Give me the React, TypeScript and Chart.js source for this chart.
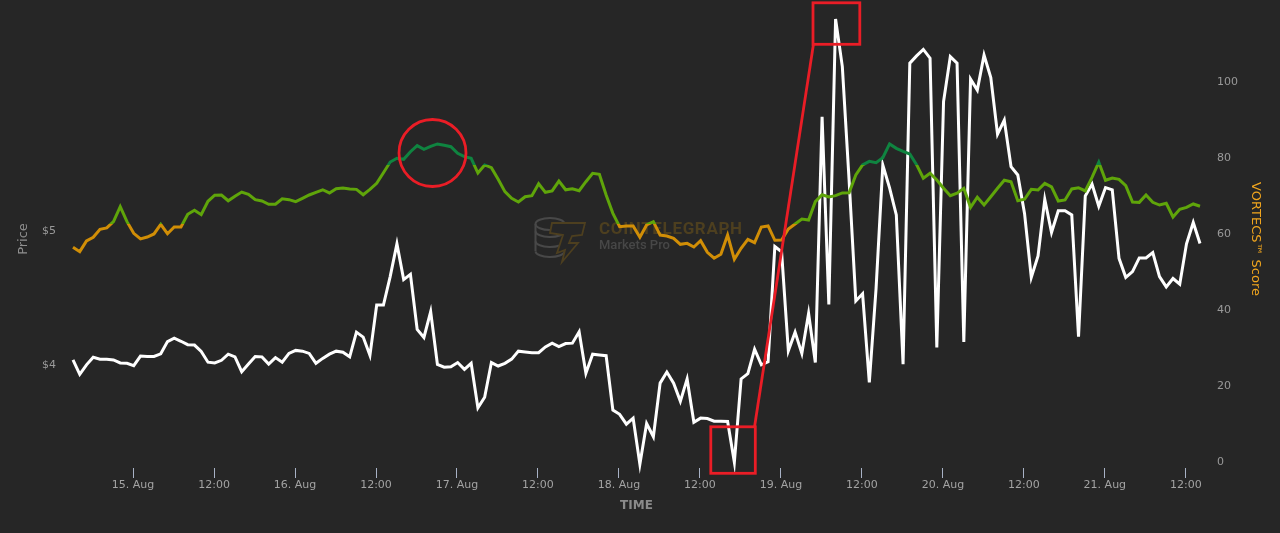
import React, { useEffect, useRef } from "react";
import { Chart, registerables } from "chart.js";

Chart.register(...registerables);

const firstHour = -8.9;

const price = [
  4.875, 4.842, 4.922, 4.949, 5.009, 5.019, 5.066, 5.178, 5.066, 4.979, 4.937, 4.951, 4.974, 5.046, 4.976, 5.026, 5.026,
  5.121, 5.151, 5.118, 5.218, 5.263, 5.265, 5.222, 5.256, 5.287, 5.27, 5.23, 5.22, 5.196, 5.196, 5.237, 5.23, 5.215,
  5.24, 5.265, 5.285, 5.304, 5.28, 5.312, 5.317, 5.31, 5.307, 5.267, 5.307, 5.352, 5.431, 5.511, 5.539, 5.531, 5.588,
  5.633, 5.606, 5.628, 5.646, 5.636, 5.625, 5.576, 5.551, 5.539, 5.429, 5.489, 5.469, 5.382, 5.29, 5.24, 5.213, 5.252,
  5.26, 5.349, 5.285, 5.295, 5.369, 5.304, 5.312, 5.297, 5.364, 5.427, 5.419, 5.265, 5.128, 5.028, 5.034, 5.034, 4.949,
  5.041, 5.066, 4.966, 4.959, 4.942, 4.897, 4.904, 4.877, 4.924, 4.837, 4.793, 4.822, 4.966, 4.785, 4.867, 4.934, 4.909,
  5.026, 5.034, 4.927, 4.929, 5.011, 5.049, 5.086, 5.078, 5.215, 5.267, 5.25, 5.26, 5.28, 5.282, 5.414, 5.489, 5.516,
  5.506, 5.543, 5.646, 5.613, 5.591, 5.571, 5.491, 5.39, 5.427, 5.377, 5.315, 5.26, 5.278, 5.315, 5.173, 5.248, 5.19,
  5.252, 5.315, 5.375, 5.364, 5.222, 5.233, 5.307, 5.302, 5.352, 5.325, 5.22, 5.228, 5.31, 5.319, 5.295, 5.397, 5.509,
  5.375, 5.392, 5.382, 5.334, 5.213, 5.21, 5.265, 5.21, 5.19, 5.203, 5.101, 5.158, 5.173, 5.198, 5.181,
];

const vortecs = [
  26.7, 22.9, 25.4, 27.4, 26.9, 26.9, 26.7, 25.9, 25.8, 25.2, 27.7, 27.6, 27.6, 28.3, 31.5, 32.4, 31.6, 30.7, 30.6, 28.9,
  26.1, 25.9, 26.6, 28.2, 27.5, 23.6, 25.6, 27.6, 27.5, 25.6, 27.3, 26.1, 28.4, 29.2, 29.0, 28.4, 25.8, 27.1, 28.2, 29.0,
  28.7, 27.5, 34.0, 32.7, 27.9, 41.1, 41.1, 48.6, 57.2, 47.8, 49.2, 34.7, 32.6, 39.4, 25.5, 24.8, 24.9, 26.0, 24.2, 25.8,
  14.1, 16.9, 26.0, 25.1, 25.8, 26.9, 29.0, 28.8, 28.6, 28.6, 30.1, 31.1, 30.2, 31.0, 31.1, 34.1, 23.2, 28.2, 28.0, 27.8,
  13.5, 12.4, 9.8, 11.4, -0.7, 10.0, 6.5, 20.6, 23.5, 20.6, 15.8, 21.7, 10.3, 11.4, 11.3, 10.6, 10.6, 10.5, -0.2, 21.7,
  23.1, 29.5, 25.4, 26.2, 56.5, 55.1, 29.1, 34.0, 28.4, 38.9, 26.0, 90.6, 41.3, 116.3, 103.8, 74.0, 42.2, 44.1, 20.8, 45.5,
  77.9, 71.9, 64.8, 25.6, 104.7, 106.6, 108.3, 106.0, 30.0, 94.6, 106.4, 104.7, 31.4, 100.5, 97.6, 106.8, 100.9, 86.0,
  89.7, 77.5, 75.3, 65.2, 48.4, 54.0, 68.9, 60.2, 65.9, 65.9, 64.8, 32.8, 69.8, 72.9, 67.1, 72.0, 71.4, 53.4, 48.4, 49.9,
  53.5, 53.5, 54.9, 48.6, 45.9, 48.1, 46.6, 57.2, 62.8, 57.3,
];

const xTickHours = [0, 12, 24, 36, 48, 60, 72, 84, 96, 108, 120, 132, 144, 156];
const xTickLabels = [
  "15. Aug", "12:00", "16. Aug", "12:00", "17. Aug", "12:00", "18. Aug", "12:00",
  "19. Aug", "12:00", "20. Aug", "12:00", "21. Aug", "12:00",
];
const priceTicks = [4, 5];
const scoreTicks = [0, 20, 40, 60, 80, 100];

const BG = "#262626";
const ORANGE = "#d18e06";
const GREEN = "#5fa50a";
const DARK_GREEN = "#0f8440";
const ORANGE_BELOW = 5.049;
const DARK_ABOVE = 5.489;
const RED = "#ea1d26";
const FONT = "'DejaVu Sans', sans-serif";

function zoneGradient(context: any) {
  const chart = context.chart;
  const area = chart.chartArea;
  const scale = chart.scales.yPrice;
  if (!area || !scale) return GREEN;
  const h = area.bottom - area.top;
  const a = (scale.getPixelForValue(DARK_ABOVE) - area.top) / h;
  const b = (scale.getPixelForValue(ORANGE_BELOW) - area.top) / h;
  const g = chart.ctx.createLinearGradient(0, area.top, 0, area.bottom);
  g.addColorStop(0, DARK_GREEN);
  g.addColorStop(a, DARK_GREEN);
  g.addColorStop(a, GREEN);
  g.addColorStop(b, GREEN);
  g.addColorStop(b, ORANGE);
  g.addColorStop(1, ORANGE);
  return g;
}

const watermark = {
  id: "watermark",
  beforeDatasetsDraw(chart: any) {
    const c = chart.ctx;
    c.save();
    c.strokeStyle = "#484848";
    c.lineWidth = 2;
    const cx = 550;
    const rx = 14.5;
    const ry = 6;
    c.beginPath();
    c.ellipse(cx, 224, rx, ry, 0, 0, Math.PI * 2);
    c.stroke();
    [234, 244, 254].forEach((y) => {
      c.beginPath();
      c.ellipse(cx, y - 3, rx, ry, 0, 0.05, Math.PI - 0.05);
      c.stroke();
    });
    c.beginPath();
    c.moveTo(cx - rx, 224);
    c.lineTo(cx - rx, 251);
    c.stroke();
    c.strokeStyle = "#4d3f1f";
    c.fillStyle = BG;
    c.lineWidth = 1.8;
    c.beginPath();
    const pts = [
      [552, 223], [585, 223], [582, 235], [572, 236], [569, 243], [578, 243],
      [562, 262], [565, 250], [557, 253], [563, 235], [550, 233],
    ];
    pts.forEach((p, i) => (i ? c.lineTo(p[0], p[1]) : c.moveTo(p[0], p[1])));
    c.closePath();
    c.fill();
    c.stroke();
    c.textAlign = "left";
    c.textBaseline = "alphabetic";
    c.fillStyle = "#4d3f1f";
    c.font = "bold 17px Roboto, sans-serif";
    (c as any).letterSpacing = "0.65px";
    c.fillText("COINTELEGRAPH", 599, 234);
    (c as any).letterSpacing = "0px";
    c.fillStyle = "#474747";
    c.font = "500 13px Roboto, sans-serif";
    c.fillText("Markets Pro", 599, 249);
    c.restore();
  },
};

const annotations = {
  id: "annotations",
  afterDraw(chart: any) {
    const c = chart.ctx;
    c.save();
    c.strokeStyle = RED;
    c.lineWidth = 2.8;
    c.beginPath();
    c.arc(432.5, 153, 33.5, 0, Math.PI * 2);
    c.stroke();
    c.strokeRect(710.8, 426.8, 44.5, 46.5);
    c.strokeRect(813, 2.8, 46.8, 41.5);
    c.beginPath();
    c.moveTo(754.5, 427);
    c.lineTo(813.5, 44);
    c.stroke();
    c.restore();
  },
};

export default function App() {
  const ref = useRef<HTMLCanvasElement>(null);

  useEffect(() => {
    const chart = new Chart(ref.current as HTMLCanvasElement, {
      type: "line",
      plugins: [watermark, annotations],
      data: {
        datasets: [
          {
            label: "Price",
            yAxisID: "yPrice",
            data: price.map((y, i) => ({ x: firstHour + i, y })),
            borderColor: zoneGradient,
            borderWidth: 3,
            pointRadius: 0,
            tension: 0,
            clip: false,
            order: 0,
          },
          {
            label: "VORTECS™ Score",
            yAxisID: "yScore",
            data: vortecs.map((y, i) => ({ x: firstHour + i, y })),
            borderColor: "#ffffff",
            borderWidth: 3,
            pointRadius: 0,
            tension: 0,
            clip: false,
            order: 1,
          },
        ],
      },
      options: {
        responsive: false,
        animation: false,
        layout: { padding: { top: 10 } },
        plugins: { legend: { display: false }, tooltip: { enabled: false } },
        scales: {
          x: {
            type: "linear",
            min: firstHour,
            max: firstHour + 167,
            afterFit: (s: any) => {
              s.height = 65;
              s.paddingLeft = 0;
              s.paddingRight = 0;
            },
            afterBuildTicks: (s: any) => {
              s.ticks = xTickHours.map((value) => ({ value }));
            },
            border: { display: false },
            grid: { drawOnChartArea: false, tickLength: 10, tickColor: "#a8b2c6", tickWidth: 1 },
            ticks: {
              color: "#a3a3a3",
              font: { family: FONT, size: 11 },
              padding: 1,
              maxRotation: 0,
              autoSkip: false,
              callback: (_v: any, i: number) => xTickLabels[i],
            },
            title: {
              display: true,
              text: "TIME",
              color: "#8a8a8a",
              font: { family: FONT, size: 12, weight: "bold" },
              padding: { top: 0, bottom: 20 },
            },
          },
          yPrice: {
            type: "linear",
            position: "left",
            min: 3.2276,
            max: 6.6455,
            afterFit: (s: any) => {
              s.width = 73;
              s.paddingTop = 0;
              s.paddingBottom = 0;
            },
            afterBuildTicks: (s: any) => {
              s.ticks = priceTicks.map((value) => ({ value }));
            },
            border: { display: false },
            grid: { display: false },
            ticks: {
              color: "#999999",
              font: { family: FONT, size: 11 },
              padding: 9,
              labelOffset: 1,
              callback: (v: any) => "$" + v,
            },
            title: {
              display: true,
              text: "Price",
              color: "#8f8f8f",
              font: { family: FONT, size: 13 },
              padding: { top: 16, bottom: 0 },
            },
          },
          yScore: {
            type: "linear",
            position: "right",
            min: -1.708,
            max: 118.66,
            afterFit: (s: any) => {
              s.width = 80;
              s.paddingTop = 0;
              s.paddingBottom = 0;
            },
            afterBuildTicks: (s: any) => {
              s.ticks = scoreTicks.map((value) => ({ value }));
            },
            border: { display: false },
            grid: { display: false },
            ticks: {
              color: "#999999",
              font: { family: FONT, size: 11 },
              padding: 9,
              labelOffset: 1,
            },
            title: {
              display: true,
              text: "VORTECS™ Score",
              color: "#f0a51e",
              font: { family: FONT, size: 13 },
              padding: { top: 17, bottom: 0 },
            },
          },
        },
      },
    } as any);
    return () => chart.destroy();
  }, []);

  return (
    <div style={{ position: "fixed", left: 0, top: 0, width: 1280, height: 533, background: BG, overflow: "hidden" }}>
      <canvas ref={ref} width={1280} height={533} style={{ display: "block" }} />
    </div>
  );
}
